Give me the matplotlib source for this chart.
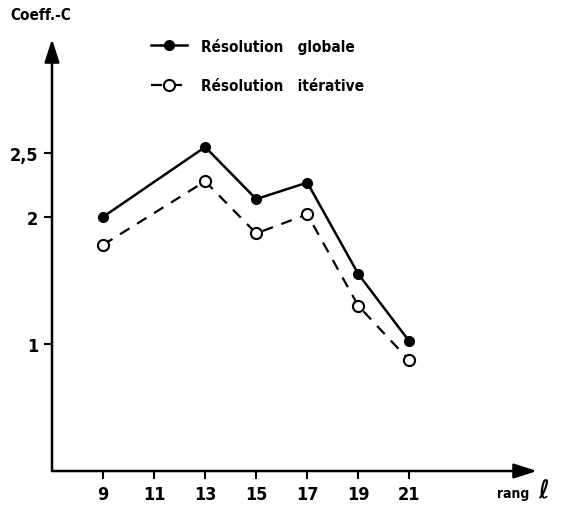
import matplotlib
matplotlib.use("Agg")
import matplotlib.pyplot as plt

# rang l values and coefficients
rang = [9, 13, 15, 17, 19, 21]
globale = [2.00, 2.55, 2.14, 2.27, 1.55, 1.02]
iterative = [1.78, 2.28, 1.87, 2.02, 1.30, 0.87]

xticks = [9, 11, 13, 15, 17, 19, 21]
yticks = [1, 2, 2.5]
ylabels = ["1", "2", "2,5"]

plt.rcParams['font.family'] = ['DejaVu Sans']
plt.rcParams['font.stretch'] = 'condensed'
plt.rcParams['font.weight'] = 'bold'

W, H = 563, 510
fig = plt.figure(figsize=(W / 100, H / 100), dpi=100)
# axes placed in pixel terms: origin (52, 472), right end 537, top 40
ax = fig.add_axes([52 / W, (H - 472) / H, (537 - 52) / W, (472 - 40) / H])
ax.set_xlim(7, 26)
ax.set_ylim(0, 3.4)

for s in ax.spines.values():
    s.set_visible(False)

# axes with arrow heads
ax.annotate("", xy=(1, 0), xytext=(0, 0), xycoords="axes fraction",
            arrowprops=dict(arrowstyle="-|>,head_length=1.4,head_width=0.45",
                            color="black", lw=1.8, shrinkA=0, shrinkB=0))
ax.annotate("", xy=(0, 1), xytext=(0, 0), xycoords="axes fraction",
            arrowprops=dict(arrowstyle="-|>,head_length=1.4,head_width=0.45",
                            color="black", lw=1.8, shrinkA=0, shrinkB=0))

l1, = ax.plot(rang, globale, color="black", lw=1.8, marker="o", ms=7,
              mfc="black", mec="black", clip_on=False)
l2, = ax.plot(rang, iterative, color="black", lw=1.6, ls=(0, (5, 4)), marker="o",
              ms=8, mfc="white", mec="black", mew=1.5, clip_on=False)

ax.set_xticks(xticks)
ax.set_xticklabels([str(x) for x in xticks])
ax.set_yticks(yticks)
ax.set_yticklabels(ylabels)
ax.tick_params(axis="x", direction="out", length=6, width=1.5, pad=4, labelsize=13)
ax.tick_params(axis="y", direction="out", length=6, width=1.5, pad=4, labelsize=13)

fig.text(10 / W, 1 - 16 / H, "Coeff.-C", fontsize=11, fontweight="bold", va="center")
fig.text(497 / W, 1 - 494 / H, "rang", fontsize=10, fontweight="bold", va="center")
fig.text(538 / W, 1 - 491 / H, r"$\ell$", fontsize=18, va="center")

ax.legend([l1, l2], ["Résolution   globale", "Résolution   itérative"],
          loc="upper left", bbox_to_anchor=(137 / W, 1 - 25 / H),
          bbox_transform=fig.transFigure, frameon=False, fontsize=11,
          handlelength=2.4, labelspacing=1.6, handletextpad=0.9)

fig.savefig("out.png", dpi=100)
